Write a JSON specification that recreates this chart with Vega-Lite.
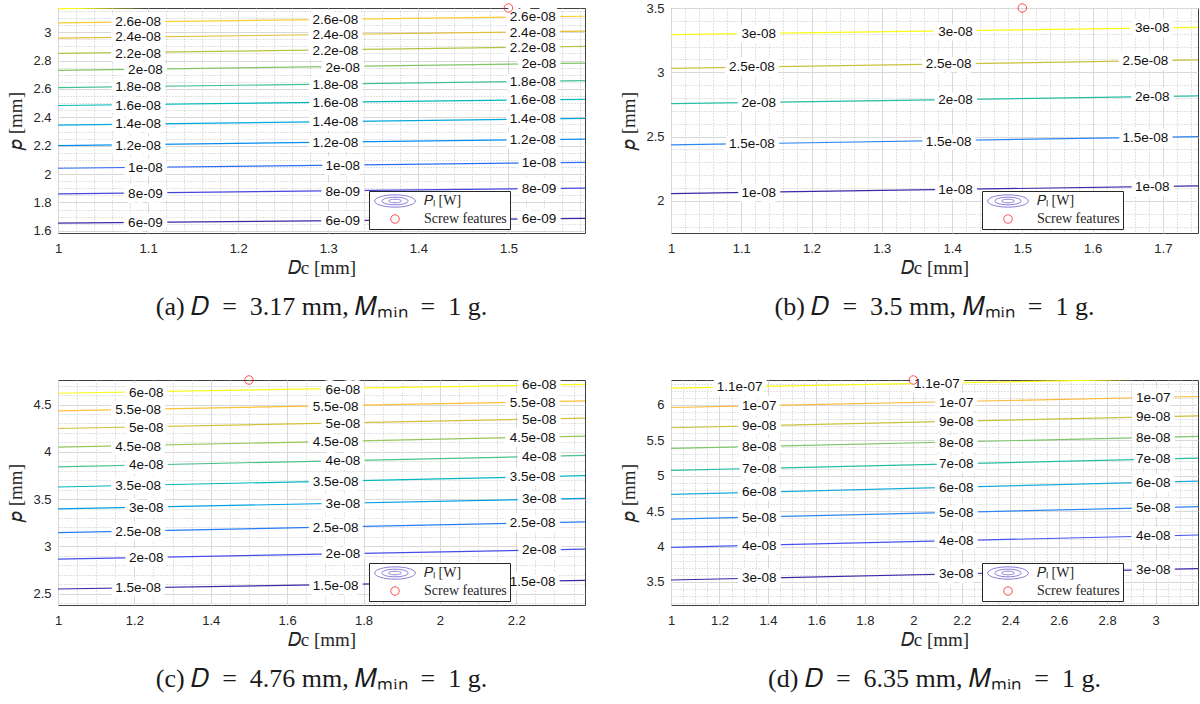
{
  "$schema": "https://vega.github.io/schema/vega-lite/v6.json",
  "background": "white",
  "padding": {"left": 6, "top": 1, "right": 0, "bottom": 0},
  "columns": 2,
  "spacing": {"row": 52, "column": 33},
  "config": {
    "view": {"stroke": "#404040", "strokeWidth": 1},
    "axis": {
      "domain": false, "ticks": false, "gridColor": "#d9d9d9", "gridWidth": 1,
      "labelFont": "Liberation Sans", "labelFontSize": 13, "labelColor": "#262626",
      "labelFlush": false, "labelOverlap": false,
      "titleFont": "Liberation Serif", "titleFontSize": 19, "titleFontWeight": "normal", "titleColor": "#262626"
    },
    "axisX": {"labelPadding": 9, "titlePadding": 3},
    "axisY": {"labelPadding": 7, "titlePadding": 7},
    "legend": {
      "orient": "none", "legendX": 311, "legendY": 183, "title": null,
      "strokeColor": "#262626", "fillColor": "white", "padding": 3,
      "labelFont": "Liberation Serif", "labelFontSize": 14, "labelColor": "#262626",
      "symbolSize": 72, "symbolStrokeWidth": 1, "symbolOffset": 16, "labelOffset": 22, "rowPadding": 2
    },
    "title": {"font": "Liberation Serif", "fontSize": 26, "fontWeight": "normal", "color": "#1a1a1a", "orient": "bottom", "anchor": "middle", "offset": 17}
  },
  "datasets": {
    "lines": [
      {"panel": "a", "level": 6e-9, "x": 1, "y": 1.655}, {"panel": "a", "level": 6e-9, "x": 1.585, "y": 1.688},
      {"panel": "a", "level": 8e-9, "x": 1, "y": 1.861}, {"panel": "a", "level": 8e-9, "x": 1.585, "y": 1.901},
      {"panel": "a", "level": 1e-8, "x": 1, "y": 2.041}, {"panel": "a", "level": 1e-8, "x": 1.585, "y": 2.083},
      {"panel": "a", "level": 1.2e-8, "x": 1, "y": 2.2}, {"panel": "a", "level": 1.2e-8, "x": 1.585, "y": 2.247},
      {"panel": "a", "level": 1.4e-8, "x": 1, "y": 2.345}, {"panel": "a", "level": 1.4e-8, "x": 1.585, "y": 2.392},
      {"panel": "a", "level": 1.6e-8, "x": 1, "y": 2.483}, {"panel": "a", "level": 1.6e-8, "x": 1.585, "y": 2.527},
      {"panel": "a", "level": 1.8e-8, "x": 1, "y": 2.609}, {"panel": "a", "level": 1.8e-8, "x": 1.585, "y": 2.658},
      {"panel": "a", "level": 2e-8, "x": 1, "y": 2.731}, {"panel": "a", "level": 2e-8, "x": 1.585, "y": 2.782},
      {"panel": "a", "level": 2.2e-8, "x": 1, "y": 2.85}, {"panel": "a", "level": 2.2e-8, "x": 1.585, "y": 2.899},
      {"panel": "a", "level": 2.4e-8, "x": 1, "y": 2.958}, {"panel": "a", "level": 2.4e-8, "x": 1.585, "y": 3.007},
      {"panel": "a", "level": 2.6e-8, "x": 1, "y": 3.065}, {"panel": "a", "level": 2.6e-8, "x": 1.585, "y": 3.112},
      {"panel": "a", "level": 2.8e-8, "x": 1, "y": 3.166}, {"panel": "a", "level": 2.8e-8, "x": 1.12, "y": 3.176},

      {"panel": "b", "level": 1e-8, "x": 1, "y": 2.057}, {"panel": "b", "level": 1e-8, "x": 1.75, "y": 2.117},
      {"panel": "b", "level": 1.5e-8, "x": 1, "y": 2.435}, {"panel": "b", "level": 1.5e-8, "x": 1.75, "y": 2.5},
      {"panel": "b", "level": 2e-8, "x": 1, "y": 2.756}, {"panel": "b", "level": 2e-8, "x": 1.75, "y": 2.816},
      {"panel": "b", "level": 2.5e-8, "x": 1, "y": 3.031}, {"panel": "b", "level": 2.5e-8, "x": 1.75, "y": 3.096},
      {"panel": "b", "level": 3e-8, "x": 1, "y": 3.293}, {"panel": "b", "level": 3e-8, "x": 1.75, "y": 3.35},

      {"panel": "c", "level": 1.5e-8, "x": 1, "y": 2.549}, {"panel": "c", "level": 1.5e-8, "x": 2.38, "y": 2.64},
      {"panel": "c", "level": 2e-8, "x": 1, "y": 2.865}, {"panel": "c", "level": 2e-8, "x": 2.38, "y": 2.97},
      {"panel": "c", "level": 2.5e-8, "x": 1, "y": 3.146}, {"panel": "c", "level": 2.5e-8, "x": 2.38, "y": 3.259},
      {"panel": "c", "level": 3e-8, "x": 1, "y": 3.396}, {"panel": "c", "level": 3e-8, "x": 2.38, "y": 3.508},
      {"panel": "c", "level": 3.5e-8, "x": 1, "y": 3.628}, {"panel": "c", "level": 3.5e-8, "x": 2.38, "y": 3.748},
      {"panel": "c", "level": 4e-8, "x": 1, "y": 3.842}, {"panel": "c", "level": 4e-8, "x": 2.38, "y": 3.962},
      {"panel": "c", "level": 4.5e-8, "x": 1, "y": 4.05}, {"panel": "c", "level": 4.5e-8, "x": 2.38, "y": 4.166},
      {"panel": "c", "level": 5e-8, "x": 1, "y": 4.247}, {"panel": "c", "level": 5e-8, "x": 2.38, "y": 4.356},
      {"panel": "c", "level": 5.5e-8, "x": 1, "y": 4.433}, {"panel": "c", "level": 5.5e-8, "x": 2.38, "y": 4.539},
      {"panel": "c", "level": 6e-8, "x": 1, "y": 4.62}, {"panel": "c", "level": 6e-8, "x": 2.38, "y": 4.714},

      {"panel": "d", "level": 3e-8, "x": 1, "y": 3.528}, {"panel": "d", "level": 3e-8, "x": 3.175, "y": 3.688},
      {"panel": "d", "level": 4e-8, "x": 1, "y": 3.989}, {"panel": "d", "level": 4e-8, "x": 3.175, "y": 4.163},
      {"panel": "d", "level": 5e-8, "x": 1, "y": 4.388}, {"panel": "d", "level": 5e-8, "x": 3.175, "y": 4.562},
      {"panel": "d", "level": 6e-8, "x": 1, "y": 4.736}, {"panel": "d", "level": 6e-8, "x": 3.175, "y": 4.924},
      {"panel": "d", "level": 7e-8, "x": 1, "y": 5.074}, {"panel": "d", "level": 7e-8, "x": 3.175, "y": 5.248},
      {"panel": "d", "level": 8e-8, "x": 1, "y": 5.384}, {"panel": "d", "level": 8e-8, "x": 3.175, "y": 5.554},
      {"panel": "d", "level": 9e-8, "x": 1, "y": 5.676}, {"panel": "d", "level": 9e-8, "x": 3.175, "y": 5.845},
      {"panel": "d", "level": 1e-7, "x": 1, "y": 5.962}, {"panel": "d", "level": 1e-7, "x": 3.175, "y": 6.117},
      {"panel": "d", "level": 1.1e-7, "x": 1, "y": 6.235}, {"panel": "d", "level": 1.1e-7, "x": 3.02, "y": 6.365}
    ],
    "labels": [
      {"panel": "a", "label": "2.6e-08", "x": 1.089, "y": 3.07}, {"panel": "a", "label": "2.6e-08", "x": 1.308, "y": 3.082}, {"panel": "a", "label": "2.6e-08", "x": 1.527, "y": 3.105},
      {"panel": "a", "label": "2.4e-08", "x": 1.089, "y": 2.963}, {"panel": "a", "label": "2.4e-08", "x": 1.308, "y": 2.977}, {"panel": "a", "label": "2.4e-08", "x": 1.527, "y": 2.995},
      {"panel": "a", "label": "2.2e-08", "x": 1.089, "y": 2.848}, {"panel": "a", "label": "2.2e-08", "x": 1.308, "y": 2.864}, {"panel": "a", "label": "2.2e-08", "x": 1.527, "y": 2.888},
      {"panel": "a", "label": "2e-08", "x": 1.097, "y": 2.733}, {"panel": "a", "label": "2e-08", "x": 1.316, "y": 2.75}, {"panel": "a", "label": "2e-08", "x": 1.534, "y": 2.773},
      {"panel": "a", "label": "1.8e-08", "x": 1.089, "y": 2.612}, {"panel": "a", "label": "1.8e-08", "x": 1.308, "y": 2.63}, {"panel": "a", "label": "1.8e-08", "x": 1.527, "y": 2.647},
      {"panel": "a", "label": "1.6e-08", "x": 1.089, "y": 2.481}, {"panel": "a", "label": "1.6e-08", "x": 1.308, "y": 2.504}, {"panel": "a", "label": "1.6e-08", "x": 1.527, "y": 2.52},
      {"panel": "a", "label": "1.4e-08", "x": 1.089, "y": 2.35}, {"panel": "a", "label": "1.4e-08", "x": 1.308, "y": 2.368}, {"panel": "a", "label": "1.4e-08", "x": 1.527, "y": 2.385},
      {"panel": "a", "label": "1.2e-08", "x": 1.089, "y": 2.2}, {"panel": "a", "label": "1.2e-08", "x": 1.308, "y": 2.219}, {"panel": "a", "label": "1.2e-08", "x": 1.527, "y": 2.237},
      {"panel": "a", "label": "1e-08", "x": 1.097, "y": 2.043}, {"panel": "a", "label": "1e-08", "x": 1.316, "y": 2.06}, {"panel": "a", "label": "1e-08", "x": 1.534, "y": 2.076},
      {"panel": "a", "label": "8e-09", "x": 1.097, "y": 1.861}, {"panel": "a", "label": "8e-09", "x": 1.316, "y": 1.875}, {"panel": "a", "label": "8e-09", "x": 1.534, "y": 1.894},
      {"panel": "a", "label": "6e-09", "x": 1.097, "y": 1.655}, {"panel": "a", "label": "6e-09", "x": 1.316, "y": 1.671}, {"panel": "a", "label": "6e-09", "x": 1.534, "y": 1.681},

      {"panel": "b", "label": "3e-08", "x": 1.125, "y": 3.298}, {"panel": "b", "label": "3e-08", "x": 1.405, "y": 3.316}, {"panel": "b", "label": "3e-08", "x": 1.685, "y": 3.342},
      {"panel": "b", "label": "2.5e-08", "x": 1.115, "y": 3.039}, {"panel": "b", "label": "2.5e-08", "x": 1.395, "y": 3.062}, {"panel": "b", "label": "2.5e-08", "x": 1.675, "y": 3.088},
      {"panel": "b", "label": "2e-08", "x": 1.125, "y": 2.762}, {"panel": "b", "label": "2e-08", "x": 1.405, "y": 2.785}, {"panel": "b", "label": "2e-08", "x": 1.685, "y": 2.808},
      {"panel": "b", "label": "1.5e-08", "x": 1.115, "y": 2.44}, {"panel": "b", "label": "1.5e-08", "x": 1.395, "y": 2.461}, {"panel": "b", "label": "1.5e-08", "x": 1.675, "y": 2.487},
      {"panel": "b", "label": "1e-08", "x": 1.125, "y": 2.065}, {"panel": "b", "label": "1e-08", "x": 1.405, "y": 2.083}, {"panel": "b", "label": "1e-08", "x": 1.685, "y": 2.104},

      {"panel": "c", "label": "6e-08", "x": 1.231, "y": 4.627}, {"panel": "c", "label": "6e-08", "x": 1.746, "y": 4.658}, {"panel": "c", "label": "6e-08", "x": 2.26, "y": 4.704},
      {"panel": "c", "label": "5.5e-08", "x": 1.21, "y": 4.44}, {"panel": "c", "label": "5.5e-08", "x": 1.727, "y": 4.475}, {"panel": "c", "label": "5.5e-08", "x": 2.243, "y": 4.521},
      {"panel": "c", "label": "5e-08", "x": 1.231, "y": 4.254}, {"panel": "c", "label": "5e-08", "x": 1.746, "y": 4.293}, {"panel": "c", "label": "5e-08", "x": 2.26, "y": 4.342},
      {"panel": "c", "label": "4.5e-08", "x": 1.21, "y": 4.053}, {"panel": "c", "label": "4.5e-08", "x": 1.727, "y": 4.099}, {"panel": "c", "label": "4.5e-08", "x": 2.243, "y": 4.148},
      {"panel": "c", "label": "4e-08", "x": 1.231, "y": 3.856}, {"panel": "c", "label": "4e-08", "x": 1.746, "y": 3.899}, {"panel": "c", "label": "4e-08", "x": 2.26, "y": 3.944},
      {"panel": "c", "label": "3.5e-08", "x": 1.21, "y": 3.642}, {"panel": "c", "label": "3.5e-08", "x": 1.727, "y": 3.684}, {"panel": "c", "label": "3.5e-08", "x": 2.243, "y": 3.73},
      {"panel": "c", "label": "3e-08", "x": 1.231, "y": 3.41}, {"panel": "c", "label": "3e-08", "x": 1.746, "y": 3.452}, {"panel": "c", "label": "3e-08", "x": 2.26, "y": 3.498},
      {"panel": "c", "label": "2.5e-08", "x": 1.21, "y": 3.157}, {"panel": "c", "label": "2.5e-08", "x": 1.727, "y": 3.195}, {"panel": "c", "label": "2.5e-08", "x": 2.243, "y": 3.245},
      {"panel": "c", "label": "2e-08", "x": 1.231, "y": 2.882}, {"panel": "c", "label": "2e-08", "x": 1.746, "y": 2.921}, {"panel": "c", "label": "2e-08", "x": 2.26, "y": 2.96},
      {"panel": "c", "label": "1.5e-08", "x": 1.21, "y": 2.559}, {"panel": "c", "label": "1.5e-08", "x": 1.727, "y": 2.584}, {"panel": "c", "label": "1.5e-08", "x": 2.243, "y": 2.622},

      {"panel": "d", "label": "1.1e-07", "x": 1.283, "y": 6.249}, {"panel": "d", "label": "1.1e-07", "x": 2.097, "y": 6.296},
      {"panel": "d", "label": "1e-07", "x": 1.364, "y": 5.977}, {"panel": "d", "label": "1e-07", "x": 2.177, "y": 6.028}, {"panel": "d", "label": "1e-07", "x": 2.99, "y": 6.099},
      {"panel": "d", "label": "9e-08", "x": 1.364, "y": 5.699}, {"panel": "d", "label": "9e-08", "x": 2.177, "y": 5.756}, {"panel": "d", "label": "9e-08", "x": 2.99, "y": 5.826},
      {"panel": "d", "label": "8e-08", "x": 1.364, "y": 5.403}, {"panel": "d", "label": "8e-08", "x": 2.177, "y": 5.464}, {"panel": "d", "label": "8e-08", "x": 2.99, "y": 5.53},
      {"panel": "d", "label": "7e-08", "x": 1.364, "y": 5.098}, {"panel": "d", "label": "7e-08", "x": 2.177, "y": 5.168}, {"panel": "d", "label": "7e-08", "x": 2.99, "y": 5.234},
      {"panel": "d", "label": "6e-08", "x": 1.364, "y": 4.769}, {"panel": "d", "label": "6e-08", "x": 2.177, "y": 4.83}, {"panel": "d", "label": "6e-08", "x": 2.99, "y": 4.9},
      {"panel": "d", "label": "5e-08", "x": 1.364, "y": 4.407}, {"panel": "d", "label": "5e-08", "x": 2.177, "y": 4.473}, {"panel": "d", "label": "5e-08", "x": 2.99, "y": 4.544},
      {"panel": "d", "label": "4e-08", "x": 1.364, "y": 4.003}, {"panel": "d", "label": "4e-08", "x": 2.177, "y": 4.073}, {"panel": "d", "label": "4e-08", "x": 2.99, "y": 4.144},
      {"panel": "d", "label": "3e-08", "x": 1.364, "y": 3.557}, {"panel": "d", "label": "3e-08", "x": 2.177, "y": 3.618}, {"panel": "d", "label": "3e-08", "x": 2.99, "y": 3.669}
    ],
    "features": [
      {"panel": "a", "lg": "Screw features", "x": 1.5, "y": 3.17},
      {"panel": "b", "lg": "Screw features", "x": 1.5, "y": 3.5},
      {"panel": "c", "lg": "Screw features", "x": 1.5, "y": 4.76},
      {"panel": "d", "lg": "Screw features", "x": 2.0, "y": 6.35}
    ]
  },
  "resolve": {"scale": {"x": "independent", "y": "independent", "color": "independent", "shape": "independent", "stroke": "independent"}},
  "concat": [
    {
      "width": 527, "height": 225,
      "title": {"text": "(a) 𝐷\u2002=\u20023.17 mm, 𝑀ₘᵢₙ\u2002=\u20021 g."},
      "resolve": {"axis": {"x": "independent", "y": "independent"}},
      "layer": [
        {
          "data": {"name": "lines"}, "transform": [{"filter": "datum.panel === 'a'"}],
          "mark": {"type": "line", "clip": true, "strokeWidth": 1.2},
          "encoding": {
            "x": {"field": "x", "type": "quantitative", "scale": {"domain": [1, 1.585], "nice": false, "zero": false},
              "axis": {"orient": "bottom", "values": [1.02,1.04,1.06,1.08,1.12,1.14,1.16,1.18,1.22,1.24,1.26,1.28,1.32,1.34,1.36,1.38,1.42,1.44,1.46,1.48,1.52,1.54,1.56,1.58], "labels": false, "title": null, "grid": true, "gridDash": [1, 2], "gridColor": "#c4c4c4"}},
            "y": {"field": "y", "type": "quantitative", "scale": {"domain": [1.585, 3.17], "nice": false, "zero": false},
              "axis": {"orient": "left", "values": [1.65,1.7,1.75,1.85,1.9,1.95,2.05,2.1,2.15,2.25,2.3,2.35,2.45,2.5,2.55,2.65,2.7,2.75,2.85,2.9,2.95,3.05,3.1,3.15], "labels": false, "title": null, "grid": true, "gridDash": [1, 2], "gridColor": "#c4c4c4"}},
            "color": {"field": "level", "type": "quantitative", "legend": null,
              "scale": {"domain": [6e-9, 8.75e-9, 1.15e-8, 1.425e-8, 1.7e-8, 1.975e-8, 2.25e-8, 2.525e-8, 2.8e-8], "range": ["#3e26a8", "#4653f2", "#2d85f2", "#18abd9", "#26bca3", "#7cc66b", "#c8c13d", "#fbbb3a", "#f9fb15"]}},
            "detail": {"field": "level", "type": "nominal"}
          }
        },
        {
          "data": {"name": "labels"}, "transform": [{"filter": "datum.panel === 'a'"}],
          "mark": {"type": "text", "fill": "white", "stroke": "white", "strokeWidth": 10, "strokeJoin": "round", "font": "Liberation Sans", "fontSize": 13.5, "baseline": "middle"},
          "encoding": {
            "x": {"field": "x", "type": "quantitative", "axis": {"orient": "bottom", "values": [1, 1.1, 1.2, 1.3, 1.4, 1.5], "format": "~g", "title": "𝐷c [mm]", "grid": true}},
            "y": {"field": "y", "type": "quantitative", "axis": {"orient": "left", "values": [1.6, 1.8, 2, 2.2, 2.4, 2.6, 2.8, 3], "format": "~g", "title": "𝑝 [mm]", "grid": true}},
            "text": {"field": "label"}
          }
        },
        {
          "data": {"name": "labels"}, "transform": [{"filter": "datum.panel === 'a'"}],
          "mark": {"type": "text", "fill": "#111111", "font": "Liberation Sans", "fontSize": 13.5, "baseline": "middle"},
          "encoding": {
            "x": {"field": "x", "type": "quantitative", "axis": null},
            "y": {"field": "y", "type": "quantitative", "axis": null},
            "text": {"field": "label"}
          }
        },
        {
          "data": {"name": "features"}, "transform": [{"filter": "datum.panel === 'a'"}],
          "mark": {"type": "point", "filled": false, "size": 72, "strokeWidth": 1},
          "encoding": {
            "x": {"field": "x", "type": "quantitative", "axis": null},
            "y": {"field": "y", "type": "quantitative", "axis": null},
            "shape": {"field": "lg", "type": "nominal", "scale": {"domain": ["𝑃ₗ [W]", "Screw features"], "range": ["M-4.8,0A4.8,1.45,0,1,0,4.8,0A4.8,1.45,0,1,0,-4.8,0Z M-3.1,0A3.1,0.9,0,1,0,3.1,0A3.1,0.9,0,1,0,-3.1,0Z M-1.5,0A1.5,0.42,0,1,0,1.5,0A1.5,0.42,0,1,0,-1.5,0Z", "circle"]}},
            "stroke": {"field": "lg", "type": "nominal", "scale": {"domain": ["𝑃ₗ [W]", "Screw features"], "range": ["#5a44c8", "#ff0000"]}}
          }
        }
      ]
    },
    {
      "width": 527, "height": 225,
      "title": {"text": "(b) 𝐷\u2002=\u20023.5 mm, 𝑀ₘᵢₙ\u2002=\u20021 g."},
      "resolve": {"axis": {"x": "independent", "y": "independent"}},
      "layer": [
        {
          "data": {"name": "lines"}, "transform": [{"filter": "datum.panel === 'b'"}],
          "mark": {"type": "line", "clip": true, "strokeWidth": 1.2},
          "encoding": {
            "x": {"field": "x", "type": "quantitative", "scale": {"domain": [1, 1.75], "nice": false, "zero": false},
              "axis": {"orient": "bottom", "values": [1.02,1.04,1.06,1.08,1.12,1.14,1.16,1.18,1.22,1.24,1.26,1.28,1.32,1.34,1.36,1.38,1.42,1.44,1.46,1.48,1.52,1.54,1.56,1.58,1.62,1.64,1.66,1.68,1.72,1.74], "labels": false, "title": null, "grid": true, "gridDash": [1, 2], "gridColor": "#c4c4c4"}},
            "y": {"field": "y", "type": "quantitative", "scale": {"domain": [1.75, 3.5], "nice": false, "zero": false},
              "axis": {"orient": "left", "values": [1.8,1.9,2.1,2.2,2.3,2.4,2.6,2.7,2.8,2.9,3.1,3.2,3.3,3.4], "labels": false, "title": null, "grid": true, "gridDash": [1, 2], "gridColor": "#c4c4c4"}},
            "color": {"field": "level", "type": "quantitative", "legend": null,
              "scale": {"domain": [1e-8, 1.25e-8, 1.5e-8, 1.75e-8, 2e-8, 2.25e-8, 2.5e-8, 2.75e-8, 3e-8], "range": ["#3e26a8", "#4653f2", "#2d85f2", "#18abd9", "#26bca3", "#7cc66b", "#c8c13d", "#fbbb3a", "#f9fb15"]}},
            "detail": {"field": "level", "type": "nominal"}
          }
        },
        {
          "data": {"name": "labels"}, "transform": [{"filter": "datum.panel === 'b'"}],
          "mark": {"type": "text", "fill": "white", "stroke": "white", "strokeWidth": 10, "strokeJoin": "round", "font": "Liberation Sans", "fontSize": 13.5, "baseline": "middle"},
          "encoding": {
            "x": {"field": "x", "type": "quantitative", "axis": {"orient": "bottom", "values": [1, 1.1, 1.2, 1.3, 1.4, 1.5, 1.6, 1.7], "format": "~g", "title": "𝐷c [mm]", "grid": true}},
            "y": {"field": "y", "type": "quantitative", "axis": {"orient": "left", "values": [2, 2.5, 3, 3.5], "format": "~g", "title": "𝑝 [mm]", "grid": true}},
            "text": {"field": "label"}
          }
        },
        {
          "data": {"name": "labels"}, "transform": [{"filter": "datum.panel === 'b'"}],
          "mark": {"type": "text", "fill": "#111111", "font": "Liberation Sans", "fontSize": 13.5, "baseline": "middle"},
          "encoding": {
            "x": {"field": "x", "type": "quantitative", "axis": null},
            "y": {"field": "y", "type": "quantitative", "axis": null},
            "text": {"field": "label"}
          }
        },
        {
          "data": {"name": "features"}, "transform": [{"filter": "datum.panel === 'b'"}],
          "mark": {"type": "point", "filled": false, "size": 72, "strokeWidth": 1},
          "encoding": {
            "x": {"field": "x", "type": "quantitative", "axis": null},
            "y": {"field": "y", "type": "quantitative", "axis": null},
            "shape": {"field": "lg", "type": "nominal", "scale": {"domain": ["𝑃ₗ [W]", "Screw features"], "range": ["M-4.8,0A4.8,1.45,0,1,0,4.8,0A4.8,1.45,0,1,0,-4.8,0Z M-3.1,0A3.1,0.9,0,1,0,3.1,0A3.1,0.9,0,1,0,-3.1,0Z M-1.5,0A1.5,0.42,0,1,0,1.5,0A1.5,0.42,0,1,0,-1.5,0Z", "circle"]}},
            "stroke": {"field": "lg", "type": "nominal", "scale": {"domain": ["𝑃ₗ [W]", "Screw features"], "range": ["#5a44c8", "#ff0000"]}}
          }
        }
      ]
    },
    {
      "width": 527, "height": 225,
      "title": {"text": "(c) 𝐷\u2002=\u20024.76 mm, 𝑀ₘᵢₙ\u2002=\u20021 g."},
      "resolve": {"axis": {"x": "independent", "y": "independent"}},
      "layer": [
        {
          "data": {"name": "lines"}, "transform": [{"filter": "datum.panel === 'c'"}],
          "mark": {"type": "line", "clip": true, "strokeWidth": 1.2},
          "encoding": {
            "x": {"field": "x", "type": "quantitative", "scale": {"domain": [1, 2.38], "nice": false, "zero": false},
              "axis": {"orient": "bottom", "values": [1.05,1.1,1.15,1.25,1.3,1.35,1.45,1.5,1.55,1.65,1.7,1.75,1.85,1.9,1.95,2.05,2.1,2.15,2.25,2.3,2.35], "labels": false, "title": null, "grid": true, "gridDash": [1, 2], "gridColor": "#c4c4c4"}},
            "y": {"field": "y", "type": "quantitative", "scale": {"domain": [2.38, 4.76], "nice": false, "zero": false},
              "axis": {"orient": "left", "values": [2.4,2.6,2.7,2.8,2.9,3.1,3.2,3.3,3.4,3.6,3.7,3.8,3.9,4.1,4.2,4.3,4.4,4.6,4.7], "labels": false, "title": null, "grid": true, "gridDash": [1, 2], "gridColor": "#c4c4c4"}},
            "color": {"field": "level", "type": "quantitative", "legend": null,
              "scale": {"domain": [1.5e-8, 2.0625e-8, 2.625e-8, 3.1875e-8, 3.75e-8, 4.3125e-8, 4.875e-8, 5.4375e-8, 6e-8], "range": ["#3e26a8", "#4653f2", "#2d85f2", "#18abd9", "#26bca3", "#7cc66b", "#c8c13d", "#fbbb3a", "#f9fb15"]}},
            "detail": {"field": "level", "type": "nominal"}
          }
        },
        {
          "data": {"name": "labels"}, "transform": [{"filter": "datum.panel === 'c'"}],
          "mark": {"type": "text", "fill": "white", "stroke": "white", "strokeWidth": 10, "strokeJoin": "round", "font": "Liberation Sans", "fontSize": 13.5, "baseline": "middle"},
          "encoding": {
            "x": {"field": "x", "type": "quantitative", "axis": {"orient": "bottom", "values": [1, 1.2, 1.4, 1.6, 1.8, 2, 2.2], "format": "~g", "title": "𝐷c [mm]", "grid": true}},
            "y": {"field": "y", "type": "quantitative", "axis": {"orient": "left", "values": [2.5, 3, 3.5, 4, 4.5], "format": "~g", "title": "𝑝 [mm]", "grid": true}},
            "text": {"field": "label"}
          }
        },
        {
          "data": {"name": "labels"}, "transform": [{"filter": "datum.panel === 'c'"}],
          "mark": {"type": "text", "fill": "#111111", "font": "Liberation Sans", "fontSize": 13.5, "baseline": "middle"},
          "encoding": {
            "x": {"field": "x", "type": "quantitative", "axis": null},
            "y": {"field": "y", "type": "quantitative", "axis": null},
            "text": {"field": "label"}
          }
        },
        {
          "data": {"name": "features"}, "transform": [{"filter": "datum.panel === 'c'"}],
          "mark": {"type": "point", "filled": false, "size": 72, "strokeWidth": 1},
          "encoding": {
            "x": {"field": "x", "type": "quantitative", "axis": null},
            "y": {"field": "y", "type": "quantitative", "axis": null},
            "shape": {"field": "lg", "type": "nominal", "scale": {"domain": ["𝑃ₗ [W]", "Screw features"], "range": ["M-4.8,0A4.8,1.45,0,1,0,4.8,0A4.8,1.45,0,1,0,-4.8,0Z M-3.1,0A3.1,0.9,0,1,0,3.1,0A3.1,0.9,0,1,0,-3.1,0Z M-1.5,0A1.5,0.42,0,1,0,1.5,0A1.5,0.42,0,1,0,-1.5,0Z", "circle"]}},
            "stroke": {"field": "lg", "type": "nominal", "scale": {"domain": ["𝑃ₗ [W]", "Screw features"], "range": ["#5a44c8", "#ff0000"]}}
          }
        }
      ]
    },
    {
      "width": 527, "height": 225,
      "title": {"text": "(d) 𝐷\u2002=\u20026.35 mm, 𝑀ₘᵢₙ\u2002=\u20021 g."},
      "resolve": {"axis": {"x": "independent", "y": "independent"}},
      "layer": [
        {
          "data": {"name": "lines"}, "transform": [{"filter": "datum.panel === 'd'"}],
          "mark": {"type": "line", "clip": true, "strokeWidth": 1.2},
          "encoding": {
            "x": {"field": "x", "type": "quantitative", "scale": {"domain": [1, 3.175], "nice": false, "zero": false},
              "axis": {"orient": "bottom", "values": [1.05,1.1,1.15,1.25,1.3,1.35,1.45,1.5,1.55,1.65,1.7,1.75,1.85,1.9,1.95,2.05,2.1,2.15,2.25,2.3,2.35,2.45,2.5,2.55,2.65,2.7,2.75,2.85,2.9,2.95,3.05,3.1,3.15], "labels": false, "title": null, "grid": true, "gridDash": [1, 2], "gridColor": "#c4c4c4"}},
            "y": {"field": "y", "type": "quantitative", "scale": {"domain": [3.175, 6.35], "nice": false, "zero": false},
              "axis": {"orient": "left", "values": [3.2,3.3,3.4,3.6,3.7,3.8,3.9,4.1,4.2,4.3,4.4,4.6,4.7,4.8,4.9,5.1,5.2,5.3,5.4,5.6,5.7,5.8,5.9,6.1,6.2,6.3], "labels": false, "title": null, "grid": true, "gridDash": [1, 2], "gridColor": "#c4c4c4"}},
            "color": {"field": "level", "type": "quantitative", "legend": null,
              "scale": {"domain": [3e-8, 4e-8, 5e-8, 6e-8, 7e-8, 8e-8, 9e-8, 1e-7, 1.1e-7], "range": ["#3e26a8", "#4653f2", "#2d85f2", "#18abd9", "#26bca3", "#7cc66b", "#c8c13d", "#fbbb3a", "#f9fb15"]}},
            "detail": {"field": "level", "type": "nominal"}
          }
        },
        {
          "data": {"name": "labels"}, "transform": [{"filter": "datum.panel === 'd'"}],
          "mark": {"type": "text", "fill": "white", "stroke": "white", "strokeWidth": 10, "strokeJoin": "round", "font": "Liberation Sans", "fontSize": 13.5, "baseline": "middle"},
          "encoding": {
            "x": {"field": "x", "type": "quantitative", "axis": {"orient": "bottom", "values": [1, 1.2, 1.4, 1.6, 1.8, 2, 2.2, 2.4, 2.6, 2.8, 3], "format": "~g", "title": "𝐷c [mm]", "grid": true}},
            "y": {"field": "y", "type": "quantitative", "axis": {"orient": "left", "values": [3.5, 4, 4.5, 5, 5.5, 6], "format": "~g", "title": "𝑝 [mm]", "grid": true}},
            "text": {"field": "label"}
          }
        },
        {
          "data": {"name": "labels"}, "transform": [{"filter": "datum.panel === 'd'"}],
          "mark": {"type": "text", "fill": "#111111", "font": "Liberation Sans", "fontSize": 13.5, "baseline": "middle"},
          "encoding": {
            "x": {"field": "x", "type": "quantitative", "axis": null},
            "y": {"field": "y", "type": "quantitative", "axis": null},
            "text": {"field": "label"}
          }
        },
        {
          "data": {"name": "features"}, "transform": [{"filter": "datum.panel === 'd'"}],
          "mark": {"type": "point", "filled": false, "size": 72, "strokeWidth": 1},
          "encoding": {
            "x": {"field": "x", "type": "quantitative", "axis": null},
            "y": {"field": "y", "type": "quantitative", "axis": null},
            "shape": {"field": "lg", "type": "nominal", "scale": {"domain": ["𝑃ₗ [W]", "Screw features"], "range": ["M-4.8,0A4.8,1.45,0,1,0,4.8,0A4.8,1.45,0,1,0,-4.8,0Z M-3.1,0A3.1,0.9,0,1,0,3.1,0A3.1,0.9,0,1,0,-3.1,0Z M-1.5,0A1.5,0.42,0,1,0,1.5,0A1.5,0.42,0,1,0,-1.5,0Z", "circle"]}},
            "stroke": {"field": "lg", "type": "nominal", "scale": {"domain": ["𝑃ₗ [W]", "Screw features"], "range": ["#5a44c8", "#ff0000"]}}
          }
        }
      ]
    }
  ]
}
